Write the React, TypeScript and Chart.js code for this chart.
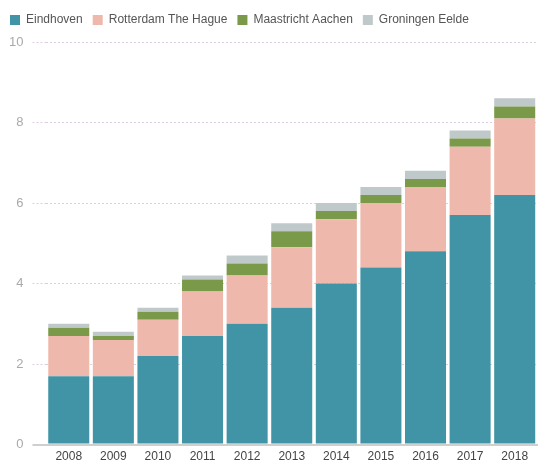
import React, { useEffect, useRef } from "react";
import { Chart, registerables } from "chart.js";

Chart.register(...registerables);

const years = ["2008", "2009", "2010", "2011", "2012", "2013", "2014", "2015", "2016", "2017", "2018"];
const eindhoven = [1.7, 1.7, 2.2, 2.7, 3.0, 3.4, 4.0, 4.4, 4.8, 5.7, 6.2];
const rotterdam = [1.0, 0.9, 0.9, 1.1, 1.2, 1.5, 1.6, 1.6, 1.6, 1.7, 1.9];
const maastricht = [0.2, 0.1, 0.2, 0.3, 0.3, 0.4, 0.2, 0.2, 0.2, 0.2, 0.3];
const groningen = [0.1, 0.1, 0.1, 0.1, 0.2, 0.2, 0.2, 0.2, 0.2, 0.2, 0.2];
const yTicks = [0, 2, 4, 6, 8, 10];

const legendSpacer = {
  id: "legendSpacer",
  beforeInit(chart: any) {
    const fit = chart.legend.fit;
    chart.legend.fit = function () {
      fit.bind(this)();
      this.height += 6;
    };
  },
};

export default function App() {
  const ref = useRef<HTMLCanvasElement | null>(null);
  useEffect(() => {
    if (!ref.current) return;
    const font = { family: "'Liberation Sans', Arial, sans-serif", size: 12 };
    const isZero = (ctx: any) => ctx.tick && ctx.tick.value === 0;
    const chart = new Chart(ref.current, {
      type: "bar",
      data: {
        labels: years,
        datasets: [
          { label: "Eindhoven", data: eindhoven, backgroundColor: "#4094a6" },
          { label: "Rotterdam The Hague", data: rotterdam, backgroundColor: "#efb8ac" },
          { label: "Maastricht Aachen", data: maastricht, backgroundColor: "#7a9a4a" },
          { label: "Groningen Eelde", data: groningen, backgroundColor: "#c0c9c9" },
        ],
      },
      plugins: [legendSpacer],
      options: {
        animation: false,
        responsive: false,
        maintainAspectRatio: false,
        layout: { padding: { left: 0, right: 9, top: 4, bottom: -4 } },
        datasets: { bar: { categoryPercentage: 1, barPercentage: 0.92 } },
        plugins: {
          tooltip: { enabled: false },
          legend: {
            position: "top",
            align: "start",
            labels: {
              boxWidth: 10,
              boxHeight: 10,
              padding: 10,
              color: "#555",
              font: { ...font, size: 12 },
            },
          },
        },
        scales: {
          x: {
            stacked: true,
            grid: { display: false, drawTicks: false },
            border: { display: true, color: "#cfcfcf", width: 2 },
            ticks: { color: "#444", font, padding: 5 },
          },
          y: {
            stacked: true,
            min: 0,
            max: 10,
            afterBuildTicks: (axis: any) => {
              axis.ticks = yTicks.map((v) => ({ value: v }));
            },
            grid: {
              color: (ctx: any) => (isZero(ctx) ? "#cfcfcf" : "#dccfe0"),
              tickColor: (ctx: any) => (isZero(ctx) ? "#cfcfcf" : "#dccfe0"),
              lineWidth: (ctx: any) => (isZero(ctx) ? 2 : 1),
              tickWidth: (ctx: any) => (isZero(ctx) ? 2 : 1),
              tickBorderDash: (ctx: any) => (isZero(ctx) ? [] : [2, 2]),
              tickLength: 14,
            },
            border: { display: false, dash: [2, 2] },
            ticks: { color: "#aaa", font: { ...font, size: 13 }, padding: 9 },
          },
        },
      },
    });
    return () => chart.destroy();
  }, []);
  return (
    <div style={{ position: "absolute", left: 0, top: 0, width: 546, height: 465, background: "#fff" }}>
      <canvas ref={ref} width={546} height={465} />
    </div>
  );
}
